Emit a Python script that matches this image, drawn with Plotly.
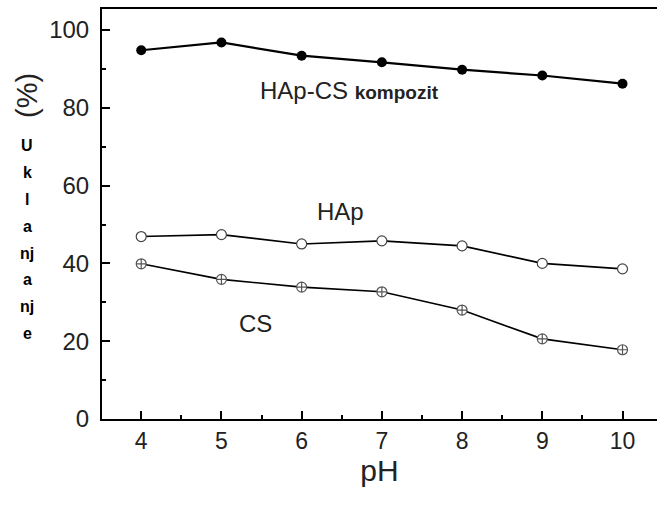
import plotly.graph_objects as go

ph = [4, 5, 6, 7, 8, 9, 10]
hap_cs = [94.8, 96.8, 93.4, 91.7, 89.8, 88.3, 86.2]
hap = [46.9, 47.4, 45.0, 45.8, 44.5, 40.0, 38.6]
cs = [39.9, 35.9, 33.9, 32.7, 28.0, 20.6, 17.8]

x_ticks = [4, 5, 6, 7, 8, 9, 10]
y_ticks = [0, 20, 40, 60, 80, 100]
ylab_letters = ["U", "k", "l", "a", "nj", "a", "nj", "e"]

fig = go.Figure()
fig.add_trace(go.Scatter(x=ph, y=hap_cs, mode="lines+markers",
                         line=dict(color="black", width=2.2),
                         marker=dict(symbol="circle", size=10, color="black")))
fig.add_trace(go.Scatter(x=ph, y=hap, mode="lines+markers",
                         line=dict(color="black", width=1.6),
                         marker=dict(symbol="circle", size=10, color="white",
                                     line=dict(color="#444", width=1.2))))
fig.add_trace(go.Scatter(x=ph, y=cs, mode="lines+markers",
                         line=dict(color="black", width=1.6),
                         marker=dict(symbol="circle-cross", size=10, color="white",
                                     line=dict(color="#555", width=1.2))))

font_main = "Liberation Sans, Arial, sans-serif"
L, R, T, B = 102, 0, 9, 87
W, H = 657, 506
plot_w = W - L - R
plot_h = H - T - B

fig.update_layout(
    width=W, height=H,
    margin=dict(l=L, r=R, t=T, b=B, autoexpand=False),
    paper_bgcolor="white", plot_bgcolor="white",
    showlegend=False,
    font=dict(family=font_main, color="#222"),
    xaxis=dict(range=[3.511, 10.43], tickvals=x_ticks, ticks="inside", ticklen=8,
               tickwidth=2, tickcolor="black", showline=True, linecolor="black",
               linewidth=2, mirror=True, showgrid=False, zeroline=False,
               automargin=False,
               tickfont=dict(size=23, color="#222"),
               minor=dict(dtick=0.5, tick0=4, ticks="inside", ticklen=4, tickwidth=2,
                          tickcolor="black", showgrid=False),
               title=dict(text="pH", font=dict(size=30, color="#222"), standoff=0)),
    yaxis=dict(range=[0, 105.4], tickvals=y_ticks, ticks="inside", ticklen=8,
               tickwidth=2, tickcolor="black", showline=True, linecolor="black",
               linewidth=2, showgrid=False, zeroline=False, automargin=False,
               tickfont=dict(size=24, color="#222"), ticklabelstandoff=6,
               minor=dict(dtick=10, tick0=0, ticks="inside", ticklen=4, tickwidth=2,
                          tickcolor="black", showgrid=False)),
)


def px_x(px):
    return (px - L) / plot_w


def px_y(py):
    return (H - B - py) / plot_h


annotations = [
    dict(x=5.45, y=84.4, xref="x", yref="y", xanchor="left", yanchor="middle",
         text="HAp-CS <b><span style='font-size:19px'>kompozit</span></b>",
         showarrow=False, font=dict(size=24, color="#222")),
    dict(x=6.49, y=53.3, xref="x", yref="y", xanchor="center", yanchor="middle",
         text="HAp", showarrow=False, font=dict(size=24, color="#222")),
    dict(x=5.43, y=24.5, xref="x", yref="y", xanchor="center", yanchor="middle",
         text="CS", showarrow=False, font=dict(size=24, color="#222")),
    dict(x=px_x(27), y=px_y(96), xref="paper", yref="paper", showarrow=False,
         xanchor="center", yanchor="middle",
         text="(%)", textangle=-90, font=dict(size=29, color="#222")),
]
y0 = 146
for i, ch in enumerate(ylab_letters):
    py = y0 + i * 26.8
    annotations.append(dict(x=px_x(27), y=px_y(py),
                            xref="paper", yref="paper", showarrow=False,
                            text="<b>" + ch + "</b>", xanchor="center", yanchor="middle",
                            font=dict(size=16, color="#000")))
fig.update_layout(annotations=annotations)

fig.write_html("out.html", config={"displayModeBar": False},
               post_script="document.body.style.margin='0';document.body.style.overflow='hidden';")
